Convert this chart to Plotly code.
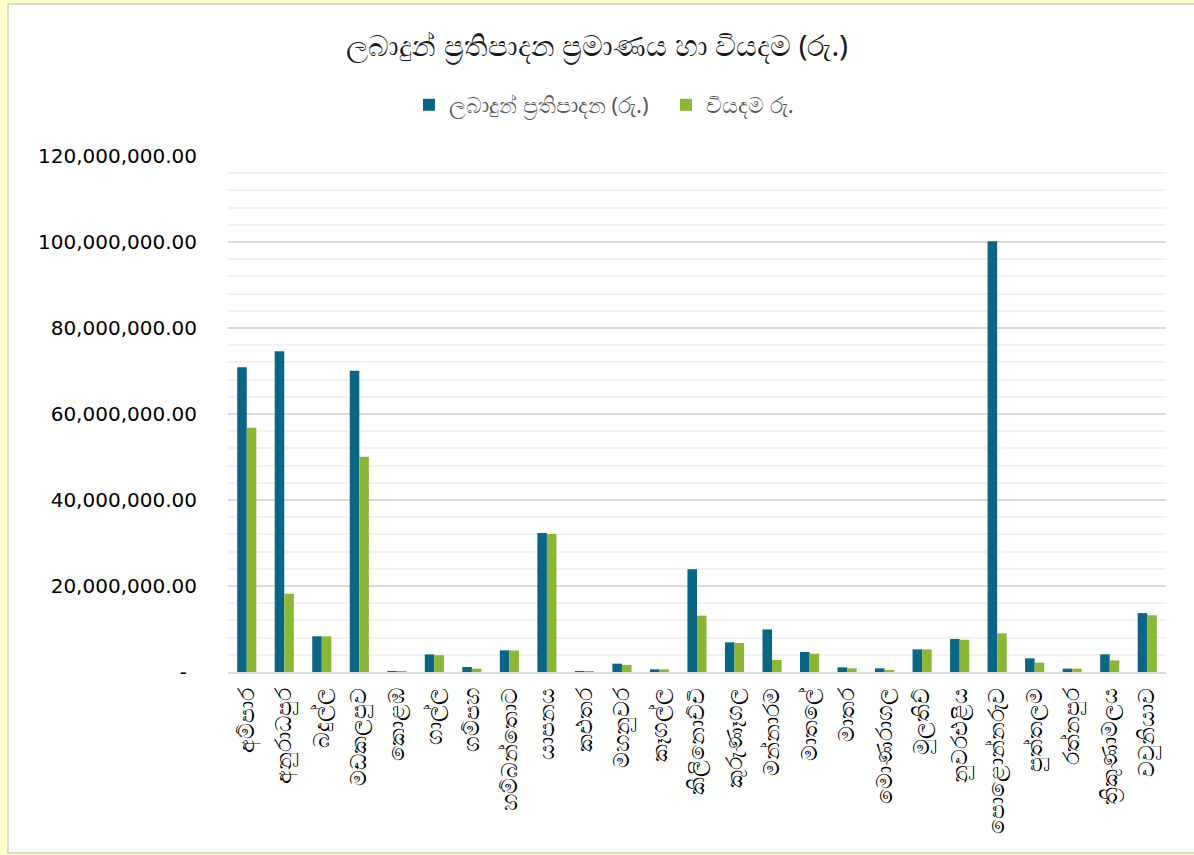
import plotly.graph_objects as go

districts = ["අම්පාර", "අනුරාධපුර", "බදුල්ල", "මඩකලපුව", "කොළඹ", "ගාල්ල", "ගම්පහ",
             "හම්බන්තොට", "යාපනය", "කළුතර", "මහනුවර", "කෑගල්ල", "කිලිනොච්චි",
             "කුරුණෑගල", "මන්නාරම", "මාතලේ", "මාතර", "මොණරාගල", "මුලතිව්",
             "නුවරඑළිය", "පොළොන්නරුව", "පුත්තලම", "රත්නපුර", "ත්‍රිකුණාමලය", "වවුනියාව"]

allocated = [70_900_000, 74_600_000, 8_300_000, 70_050_000, 150_000, 4_100_000, 1_160_000,
             5_040_000, 32_300_000, 100_000, 1_940_000, 620_000, 23_900_000,
             6_900_000, 9_900_000, 4_650_000, 1_080_000, 850_000, 5_270_000,
             7_670_000, 100_200_000, 3_180_000, 780_000, 4_100_000, 13_700_000]

expenditure = [56_800_000, 18_200_000, 8_300_000, 50_070_000, 100_000, 3_900_000, 780_000,
               5_000_000, 32_100_000, 50_000, 1_630_000, 600_000, 13_100_000,
               6_740_000, 2_800_000, 4_260_000, 850_000, 400_000, 5_270_000,
               7_500_000, 9_000_000, 2_170_000, 780_000, 2_700_000, 13_200_000]

series_names = ["ලබාදුන් ප්‍රතිපාදන (රු.)", "වියදම රු."]
title_text = "ලබාදුන් ප්‍රතිපාදන ප්‍රමාණය හා වියදම (රු.)"

y_tickvals = [0, 20_000_000, 40_000_000, 60_000_000, 80_000_000, 100_000_000, 120_000_000]
y_ticktext = ["-\u2002", "20,000,000.00", "40,000,000.00", "60,000,000.00",
              "80,000,000.00", "100,000,000.00", "120,000,000.00"]

BLUE = "#0B6685"
GREEN = "#8CB635"

fig = go.Figure()
fig.add_trace(go.Bar(x=districts, y=allocated, name=series_names[0],
                     marker=dict(color=BLUE, line=dict(width=0))))
fig.add_trace(go.Bar(x=districts, y=expenditure, name=series_names[1],
                     marker=dict(color=GREEN, line=dict(width=0))))

W, H = 1194, 855
L, R, T, B = 228, 28, 156, 183
pw, ph = W - L - R, H - T - B

def px2x(x):
    return (x - L) / pw

def px2y(y):
    return (H - B - y) / ph

fig.update_layout(
    width=W, height=H,
    margin=dict(l=L, r=R, t=T, b=B),
    paper_bgcolor="#FFFFCC",
    plot_bgcolor="white",
    barmode="group",
    bargap=0.49,
    bargroupgap=0,
    title=dict(text=title_text, x=0.5, xanchor="center", y=1 - 46 / H, yanchor="middle",
               font=dict(size=29, color="#1a1a1a", family="Noto Sans, DejaVu Sans")),
    legend=dict(orientation="h", x=px2x(409), xanchor="left", y=px2y(105), yanchor="middle",
                font=dict(size=22, color="#595959", family="Noto Sans, DejaVu Sans"),
                itemsizing="constant", bgcolor="rgba(0,0,0,0)", traceorder="normal",
                itemwidth=30, entrywidth=212, entrywidthmode="pixels"),
    showlegend=True,
    shapes=[dict(type="rect", xref="paper", yref="paper",
                 x0=px2x(8), x1=px2x(1197), y0=px2y(853), y1=px2y(4),
                 fillcolor="white", line=dict(color="#D9D9D9", width=2), layer="below")],
    xaxis=dict(tickangle=-90, showgrid=False, showline=True, linecolor="#D9D9D9", linewidth=1.5,
               ticks="", ticklabelstandoff=5,
               tickfont=dict(size=22, color="#000000", family="Noto Sans, DejaVu Sans")),
    yaxis=dict(range=[0, 120_000_000], tickvals=y_tickvals, ticktext=y_ticktext,
               showgrid=True, gridcolor="#D9D9D9", gridwidth=1.5, zeroline=False,
               showline=False, ticks="", ticklabelstandoff=30,
               tickfont=dict(size=20, color="#000000", family="DejaVu Sans"),
               minor=dict(dtick=4_000_000, showgrid=True, gridcolor="#F2F2F2", gridwidth=1.5)),
)

fig.write_html("out.html", config={"displayModeBar": False},
               post_script="document.body.style.margin='0';document.body.style.overflow='hidden';")
